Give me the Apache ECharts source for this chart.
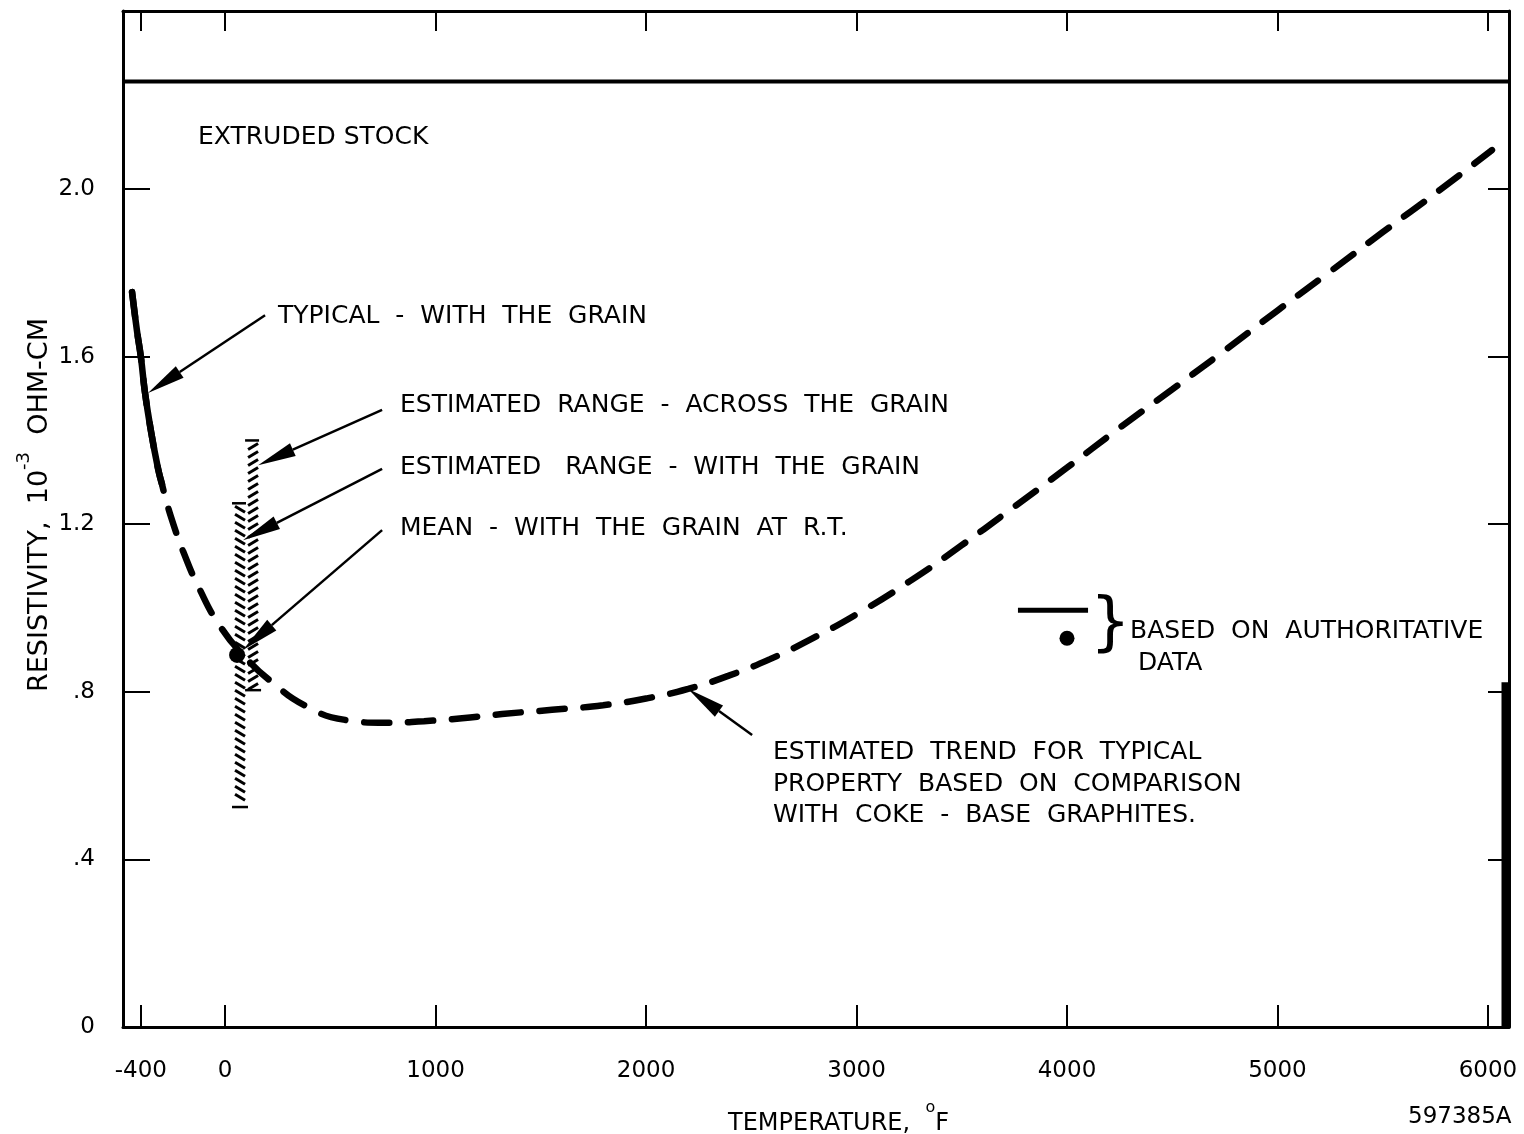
<!DOCTYPE html>
<html><head><meta charset="utf-8">
<script src="https://cdn.jsdelivr.net/npm/echarts@6/dist/echarts.min.js"></script>
<style>html,body{margin:0;padding:0;background:#fff}#c{width:1524px;height:1134px}</style>
</head><body><div id="c"></div>
<script>
// ---- data ----
const xTicks = [-400, 0, 1000, 2000, 3000, 4000, 5000, 6000];
const yTicks = [0, 0.4, 0.8, 1.2, 1.6, 2.0];
const yTickLabels = ['0', '.4', '.8', '1.2', '1.6', '2.0'];

// typical - with the grain (solid, measured part)
const solidX = [-442, -419, -400, -381, -352, -319, -300];
const solidY = [1.754, 1.663, 1.599, 1.516, 1.422, 1.334, 1.296];
// estimated trend (dashed), continuing from the solid part
const trendX = [-281, -243, -200, -124, -24, 95, 223, 385, 570, 765, 945, 1126, 1316, 1553, 1796, 2010, 2200, 2390, 2589, 2800, 3000, 3250, 3500, 3750, 4000, 4250, 4500, 4750, 5000, 5250, 5500, 5772, 6019];
const trendY = [1.258, 1.196, 1.136, 1.048, 0.957, 0.883, 0.823, 0.766, 0.733, 0.726, 0.730, 0.737, 0.747, 0.757, 0.768, 0.785, 0.807, 0.838, 0.878, 0.930, 0.985, 1.063, 1.150, 1.242, 1.335, 1.430, 1.522, 1.615, 1.710, 1.803, 1.897, 1.998, 2.093];

// estimated ranges (hatched bars): temperature, low, high, hatch direction (0 = "\", 1 = "/")
const rangeX = [71, 133];
const rangeLow = [0.525, 0.804];
const rangeHigh = [1.25, 1.40];
const rangeHatch = [0, 1];

// mean at room temperature
const meanX = [57];
const meanY = [0.888];

// legend key marks
const keyLineX = [3767, 4100];
const keyLineY = [0.995, 0.995];
const keyDotX = [4000];
const keyDotY = [0.928];

// ruled line near top and thick right edge segment
const ruleY = 2.257;
const edgeX = 6081;
const edgeY = [0, 0.823];

// annotation arrows: tail x, tail y, tip x, tip y
const arrowTailX = [190, 746, 746, 746, 2504];
const arrowTailY = [1.699, 1.473, 1.332, 1.186, 0.697];
const arrowTipX = [-366, 157, 85, 85, 2200];
const arrowTipY = [1.513, 1.341, 1.162, 0.900, 0.807];

const X_MIN = -485, X_MAX = 6100, Y_MIN = 0, Y_MAX = 2.425;

// ---- chart ----
const FONT = 'DejaVu Sans';
const chart = echarts.init(document.getElementById('c'), null, {renderer: 'canvas'});
const zip = (a, b) => a.map((v, i) => [v, b[i]]);

const axisCommon = {
  type: 'value', min: X_MIN, max: X_MAX,
  axisLine: {show: true, onZero: false, lineStyle: {color: '#000', width: 3}},
  splitLine: {show: false}
};

const option = {
  animation: false,
  backgroundColor: '#fff',
  grid: {left: 123, right: 15, top: 11, bottom: 107, outerBoundsMode: 'none', containLabel: false},
  xAxis: [
    Object.assign({}, axisCommon, {
      position: 'bottom',
      axisTick: {show: true, inside: true, length: 22, customValues: xTicks, lineStyle: {color: '#000', width: 2}},
      axisLabel: {show: true, customValues: xTicks, margin: 33, color: '#000', fontSize: 23, fontFamily: FONT,
        formatter: v => String(v)}
    }),
    Object.assign({}, axisCommon, {
      position: 'top',
      axisTick: {show: true, inside: true, length: 20, customValues: xTicks, lineStyle: {color: '#000', width: 2}},
      axisLabel: {show: false}
    })
  ],
  yAxis: [
    {
      type: 'value', min: Y_MIN, max: Y_MAX, position: 'left',
      axisLine: {show: true, onZero: false, lineStyle: {color: '#000', width: 3}},
      axisTick: {show: true, inside: true, length: 27, customValues: yTicks, lineStyle: {color: '#000', width: 2}},
      axisLabel: {show: true, customValues: yTicks, margin: 28, color: '#000', fontSize: 23, fontFamily: FONT,
        formatter: v => { const i = yTicks.findIndex(t => Math.abs(t - v) < 1e-6); return i >= 0 ? yTickLabels[i] : ''; }},
      splitLine: {show: false}
    },
    {
      type: 'value', min: Y_MIN, max: Y_MAX, position: 'right',
      axisLine: {show: true, onZero: false, lineStyle: {color: '#000', width: 3}},
      axisTick: {show: true, inside: true, length: 21, customValues: yTicks, lineStyle: {color: '#000', width: 2}},
      axisLabel: {show: false},
      splitLine: {show: false}
    }
  ],
  series: [
    {
      name: 'rule', type: 'line', silent: true,
      data: [[X_MIN, ruleY], [X_MAX, ruleY]], showSymbol: false,
      lineStyle: {color: '#000', width: 4}
    },
    {
      name: 'edge', type: 'line', silent: true,
      data: edgeY.map(y => [edgeX, y]), showSymbol: false,
      lineStyle: {color: '#000', width: 7}
    },
    {
      // whole curve dashed; the solid part is overdrawn on top
      name: 'trend', type: 'line', smooth: true, silent: true,
      data: zip(solidX.concat(trendX), solidY.concat(trendY)), showSymbol: false,
      lineStyle: {color: '#000', width: 6.5, type: [25, 19], cap: 'round'}
    },
    {
      name: 'typical', type: 'line', smooth: true, silent: true,
      data: zip(solidX, solidY), showSymbol: false,
      lineStyle: {color: '#000', width: 6.5, cap: 'round'}
    },
    {
      name: 'ranges', type: 'custom', silent: true,
      data: rangeX.map((x, i) => [x, rangeLow[i], rangeHigh[i], rangeHatch[i]]),
      encode: {x: 0, y: [1, 2]},
      renderItem: (params, api) => {
        const x = api.value(0), lo = api.value(1), hi = api.value(2), dir = api.value(3);
        const top = api.coord([x, hi]), bot = api.coord([x, lo]);
        const cx = top[0], hw = 5;
        const st = {stroke: '#000', lineWidth: 3};
        const ch = [];
        for (let y = top[1] + 3; y < bot[1] - 5; y += 8) {
          if (dir === 0) ch.push({type: 'line', shape: {x1: cx - hw, y1: y, x2: cx + hw, y2: y + 6}, style: st});
          else ch.push({type: 'line', shape: {x1: cx - hw, y1: y + 6, x2: cx + hw, y2: y}, style: st});
        }
        ch.push({type: 'line', shape: {x1: cx - 8, y1: top[1], x2: cx + 6, y2: top[1]}, style: {stroke: '#000', lineWidth: 2.5}});
        ch.push({type: 'line', shape: {x1: cx - 8, y1: bot[1], x2: cx + 8, y2: bot[1]}, style: {stroke: '#000', lineWidth: 2.5}});
        return {type: 'group', children: ch};
      }
    },
    {
      name: 'mean', type: 'scatter', silent: true,
      data: zip(meanX, meanY), symbol: 'circle', symbolSize: 16,
      itemStyle: {color: '#000', opacity: 1}
    },
    {
      name: 'keyLine', type: 'line', silent: true,
      data: zip(keyLineX, keyLineY), showSymbol: false,
      lineStyle: {color: '#000', width: 5}
    },
    {
      name: 'keyDot', type: 'scatter', silent: true,
      data: zip(keyDotX, keyDotY), symbol: 'circle', symbolSize: 15,
      itemStyle: {color: '#000', opacity: 1}
    },
    {
      name: 'arrows', type: 'custom', silent: true,
      data: arrowTailX.map((x, i) => [x, arrowTailY[i], arrowTipX[i], arrowTipY[i]]),
      encode: {x: [0, 2], y: [1, 3]},
      renderItem: (params, api) => {
        const p1 = api.coord([api.value(0), api.value(1)]);
        const p2 = api.coord([api.value(2), api.value(3)]);
        const dx = p2[0] - p1[0], dy = p2[1] - p1[1];
        const L = Math.hypot(dx, dy), ux = dx / L, uy = dy / L;
        const hl = 38, hw = 7;
        const bx = p2[0] - ux * hl, by = p2[1] - uy * hl;
        return {type: 'group', children: [
          {type: 'line', shape: {x1: p1[0], y1: p1[1], x2: bx, y2: by}, style: {stroke: '#000', lineWidth: 2.5}},
          {type: 'polygon', shape: {points: [[p2[0], p2[1]], [bx - uy * hw, by + ux * hw], [bx + uy * hw, by - ux * hw]]}, style: {fill: '#000'}}
        ]};
      }
    }
  ],
  graphic: [
    {type: 'text', left: 198, top: 125, style: {text: 'EXTRUDED STOCK', font: `25px "${FONT}"`, fill: '#000'}},
    {type: 'text', left: 278, top: 304, style: {text: 'TYPICAL  -  WITH  THE  GRAIN', font: `25px "${FONT}"`, fill: '#000'}},
    {type: 'text', left: 400, top: 393, style: {text: 'ESTIMATED  RANGE  -  ACROSS  THE  GRAIN', font: `25px "${FONT}"`, fill: '#000'}},
    {type: 'text', left: 400, top: 455, style: {text: 'ESTIMATED   RANGE  -  WITH  THE  GRAIN', font: `25px "${FONT}"`, fill: '#000'}},
    {type: 'text', left: 400, top: 516, style: {text: 'MEAN  -  WITH  THE  GRAIN  AT  R.T.', font: `25px "${FONT}"`, fill: '#000'}},
    {type: 'text', left: 773, top: 737, style: {text: 'ESTIMATED  TREND  FOR  TYPICAL\nPROPERTY  BASED  ON  COMPARISON\nWITH  COKE  -  BASE  GRAPHITES.', font: `25px "${FONT}"`, fill: '#000', lineHeight: 31.5}},
    {type: 'text', left: 1090, top: 594, style: {text: '}', font: `64px "${FONT}"`, fill: '#000'}},
    {type: 'text', left: 1130, top: 615, style: {text: 'BASED  ON  AUTHORITATIVE\n DATA', font: `25px "${FONT}"`, fill: '#000', lineHeight: 32}},
    {type: 'text', left: 728, top: 1100, style: {
      text: '{n|TEMPERATURE,  }{s|o}{n|F}', fill: '#000',
      rich: {n: {fontSize: 24, fontFamily: FONT, lineHeight: 36, verticalAlign: 'bottom'}, s: {fontSize: 16, fontFamily: FONT, lineHeight: 36, verticalAlign: 'top'}}
    }},
    {type: 'text', left: 1408, top: 1106, style: {text: '597385A', font: `23px "${FONT}"`, fill: '#000'}},
    {type: 'text', x: 34, y: 505, rotation: Math.PI / 2, style: {
      text: '{n|RESISTIVITY,  10}{s|-3}{n|  OHM-CM}', fill: '#000', align: 'center', verticalAlign: 'middle',
      rich: {n: {fontSize: 27, fontFamily: FONT, lineHeight: 38, verticalAlign: 'bottom'}, s: {fontSize: 18, fontFamily: FONT, lineHeight: 38, verticalAlign: 'top'}}
    }}
  ]
};
chart.setOption(option);
</script>
</body></html>
